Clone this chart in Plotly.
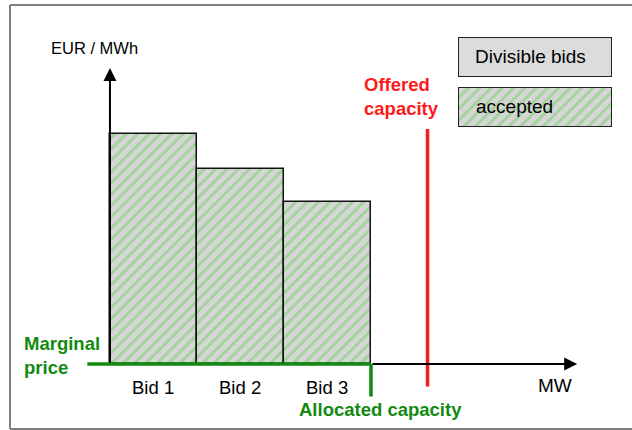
import plotly.graph_objects as go

# ---- data ----
bid_labels = ["Bid 1", "Bid 2", "Bid 3"]
bid_volumes_mw = [100, 100, 100]
bid_prices_eur = [92, 78, 65]
offered_capacity_mw = 365
allocated_capacity_mw = sum(bid_volumes_mw)

W, H = 632, 430
FONT = "Liberation Sans, Arial, sans-serif"
GREEN = "#128a12"
RED = "#ff1a1a"

# bar centres from cumulative volumes
centers, start = [], 0
for v in bid_volumes_mw:
    centers.append(start + v / 2)
    start += v

def px(x, y):
    return x / W, 1 - y / H

fig = go.Figure()

fig.add_trace(go.Bar(
    x=centers, y=bid_prices_eur, width=bid_volumes_mw,
    marker=dict(color="#d9d9d9", line=dict(color="#111111", width=1.5),
                pattern=dict(shape="/", fgcolor="#9fd398", bgcolor="#d6d6d6",
                             size=8, solidity=0.35, fillmode="replace")),
    showlegend=False, hoverinfo="skip",
))

# legend swatches on their own small axes
fig.add_trace(go.Bar(x=[0], y=[1], width=[1], xaxis="x2", yaxis="y2",
                     marker=dict(color="#dcdcdc", line=dict(color="#222222", width=2)),
                     showlegend=False, hoverinfo="skip"))
fig.add_trace(go.Bar(x=[0], y=[1], width=[1], xaxis="x3", yaxis="y3",
                     marker=dict(color="#d9d9d9", line=dict(color="#222222", width=2),
                                 pattern=dict(shape="/", fgcolor="#9fd398", bgcolor="#d6d6d6",
                                              size=8, solidity=0.35, fillmode="replace")),
                     showlegend=False, hoverinfo="skip"))

shapes = []
# outer frame
for (x0, y0, x1, y1) in [(10, 5, 640, 5), (10, 5, 10, 429), (10, 429, 640, 429)]:
    a0, b0 = px(x0, y0); a1, b1 = px(x1, y1)
    shapes.append(dict(type="line", xref="paper", yref="paper", x0=a0, y0=b0, x1=a1, y1=b1,
                       line=dict(color="#7f7f7f", width=2)))

# offered capacity line
shapes.append(dict(type="line", xref="x", yref="y", x0=offered_capacity_mw, x1=offered_capacity_mw,
                   y0=-9, y1=94, line=dict(color=RED, width=3.5)))
# marginal price line (green) along x axis
shapes.append(dict(type="line", xref="x", yref="y", x0=-26, x1=allocated_capacity_mw,
                   y0=0, y1=0, line=dict(color=GREEN, width=3.5)))
# allocated capacity tick
shapes.append(dict(type="line", xref="x", yref="y", x0=allocated_capacity_mw, x1=allocated_capacity_mw,
                   y0=0, y1=-13, line=dict(color=GREEN, width=3.5)))

annotations = []
# axes with arrows
annotations.append(dict(x=0, y=118.4, ax=0, ay=0, xref="x", yref="y", axref="x", ayref="y",
                        showarrow=True, arrowhead=2, arrowsize=1.3, arrowwidth=2, arrowcolor="black", text=""))
annotations.append(dict(x=537, y=0, ax=allocated_capacity_mw, ay=0, xref="x", yref="y", axref="x", ayref="y",
                        showarrow=True, arrowhead=2, arrowsize=1.3, arrowwidth=2, arrowcolor="black", text=""))

def txt(text, x, y, color="black", bold=False, xanchor="center", size=18.5, align="left"):
    a, b = px(x, y)
    annotations.append(dict(text=f"<b>{text}</b>" if bold else text, x=a, y=b, xref="paper", yref="paper",
                            showarrow=False, xanchor=xanchor, yanchor="middle", align=align,
                            font=dict(family=FONT, size=size, color=color)))

txt("EUR / MWh", 49, 48, xanchor="left", size=16.5)
for lab, c in zip(bid_labels, centers):
    annotations.append(dict(text=lab, x=c, y=-9.3, xref="x", yref="y", showarrow=False,
                            xanchor="center", yanchor="middle", font=dict(family=FONT, size=18.5, color="black")))
txt("MW", 555, 385, size=19)
txt("Offered<br>capacity", 362, 96, color=RED, bold=True, xanchor="left", size=18.5)
txt("Marginal<br>price", 22, 355.5, color=GREEN, bold=True, xanchor="left", size=18.5)
txt("Allocated capacity", 380, 409, color=GREEN, bold=True, size=18.5)
txt("Divisible bids", 473, 57, xanchor="left", size=19)
txt("accepted", 474, 107, xanchor="left", size=19)

x_range = [-126.4, 600]
y_range = [-26.4, 145.6]
hidden = dict(visible=False, showgrid=False, zeroline=False, fixedrange=True)

l0, _ = px(458, 0); l1, _ = px(612, 0)
_, t1 = px(0, 37); _, b1 = px(0, 77)
_, t2 = px(0, 87); _, b2 = px(0, 127)

fig.update_layout(
    width=W, height=H, margin=dict(l=0, r=0, t=0, b=0),
    paper_bgcolor="white", plot_bgcolor="white",
    xaxis=dict(range=x_range, domain=[0, 1], **hidden),
    yaxis=dict(range=y_range, domain=[0, 1], **hidden),
    xaxis2=dict(range=[-0.5, 0.5], domain=[l0, l1], anchor="y2", **hidden),
    yaxis2=dict(range=[0, 1], domain=[b1, t1], anchor="x2", **hidden),
    xaxis3=dict(range=[-0.5, 0.5], domain=[l0, l1], anchor="y3", **hidden),
    yaxis3=dict(range=[0, 1], domain=[b2, t2], anchor="x3", **hidden),
    shapes=shapes, annotations=annotations, bargap=0,
)

fig.write_html("out.html", config={"displayModeBar": False},
               post_script="document.body.style.margin='0';document.body.style.overflow='hidden';")
